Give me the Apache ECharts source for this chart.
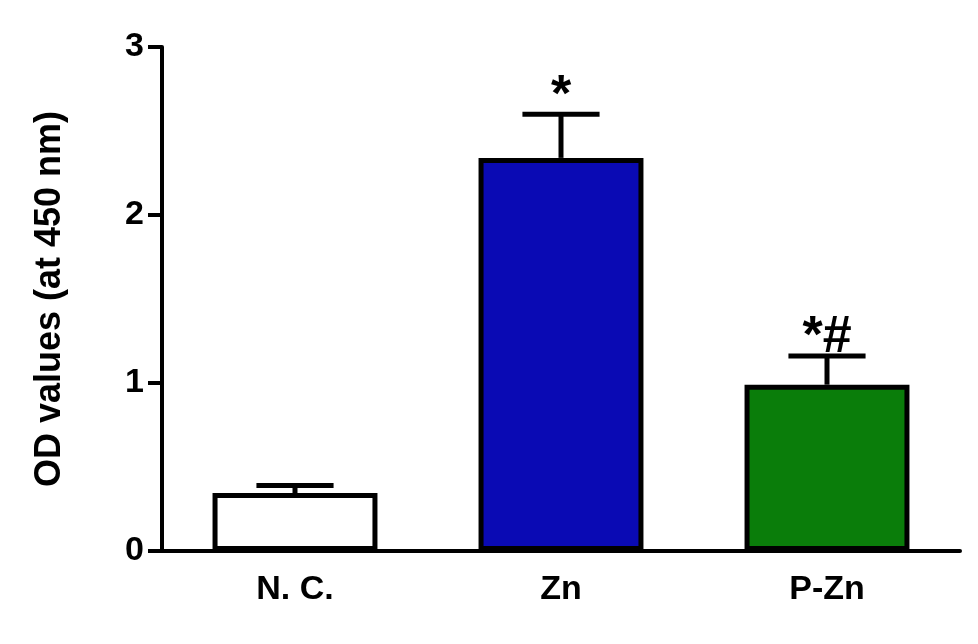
<!DOCTYPE html>
<html>
<head>
<meta charset="utf-8">
<script src="https://cdn.jsdelivr.net/npm/echarts@6/dist/echarts.min.js"></script>
<style>html,body{margin:0;background:#fff}#c{width:978px;height:644px}</style>
</head>
<body>
<div id="c"></div>
<script>
var categories = ['N. C.', 'Zn', 'P-Zn'];
var means = [0.345, 2.34, 0.99];
var errors = [0.045, 0.26, 0.17];
var marks = ['', '*', '*#'];
var colors = ['#ffffff', '#0a0ab4', '#0a7d0a'];

var chart = echarts.init(document.getElementById('c'));
var font = '"Liberation Sans", Arial, sans-serif';

chart.setOption({
    animation: false,
    grid: { left: 162, right: 18, top: 47, bottom: 93 },
    xAxis: {
        type: 'category',
        data: categories,
        axisLine: { lineStyle: { color: '#000', width: 4 } },
        axisTick: { alignWithLabel: true, length: 10, lineStyle: { width: 4, color: '#000' } },
        axisLabel: { color: '#000', fontFamily: font, fontWeight: 'bold', fontSize: 34, margin: 22 }
    },
    yAxis: {
        type: 'value',
        min: 0, max: 3, interval: 1,
        name: 'OD values (at 450 nm)',
        nameLocation: 'middle',
        nameGap: 94,
        nameTextStyle: { color: '#000', fontFamily: font, fontWeight: 'bold', fontSize: 36 },
        splitLine: { show: false },
        axisLine: { show: true, lineStyle: { color: '#000', width: 4 } },
        axisTick: { show: true, length: 14, lineStyle: { width: 4, color: '#000' } },
        axisLabel: { color: '#000', fontFamily: font, fontWeight: 'bold', fontSize: 34, margin: 18 }
    },
    series: [{
        type: 'bar',
        barWidth: '62%',
        data: means.map(function (v, i) {
            return { value: v, itemStyle: { color: colors[i], borderColor: '#000', borderWidth: 5 } };
        }),
        z: 2
    }, {
        type: 'custom',
        z: 1,
        data: means.map(function (v, i) { return [i, v, v + errors[i]]; }),
        renderItem: function (params, api) {
            var base = api.coord([api.value(0), api.value(1)]);
            var top = api.coord([api.value(0), api.value(2)]);
            var half = api.size([1, 0])[0] * 0.145;
            var st = { stroke: '#000', lineWidth: 5 };
            return {
                type: 'group',
                children: [
                    { type: 'line', shape: { x1: base[0], y1: base[1], x2: top[0], y2: top[1] }, style: st },
                    { type: 'line', shape: { x1: top[0] - half, y1: top[1], x2: top[0] + half, y2: top[1] }, style: st },
                    { type: 'text', x: top[0], y: top[1] + 8, style: {
                        text: marks[params.dataIndex], fill: '#000', font: 'bold 52px ' + font,
                        align: 'center', verticalAlign: 'bottom' } }
                ]
            };
        }
    }]
});
</script>
</body>
</html>
